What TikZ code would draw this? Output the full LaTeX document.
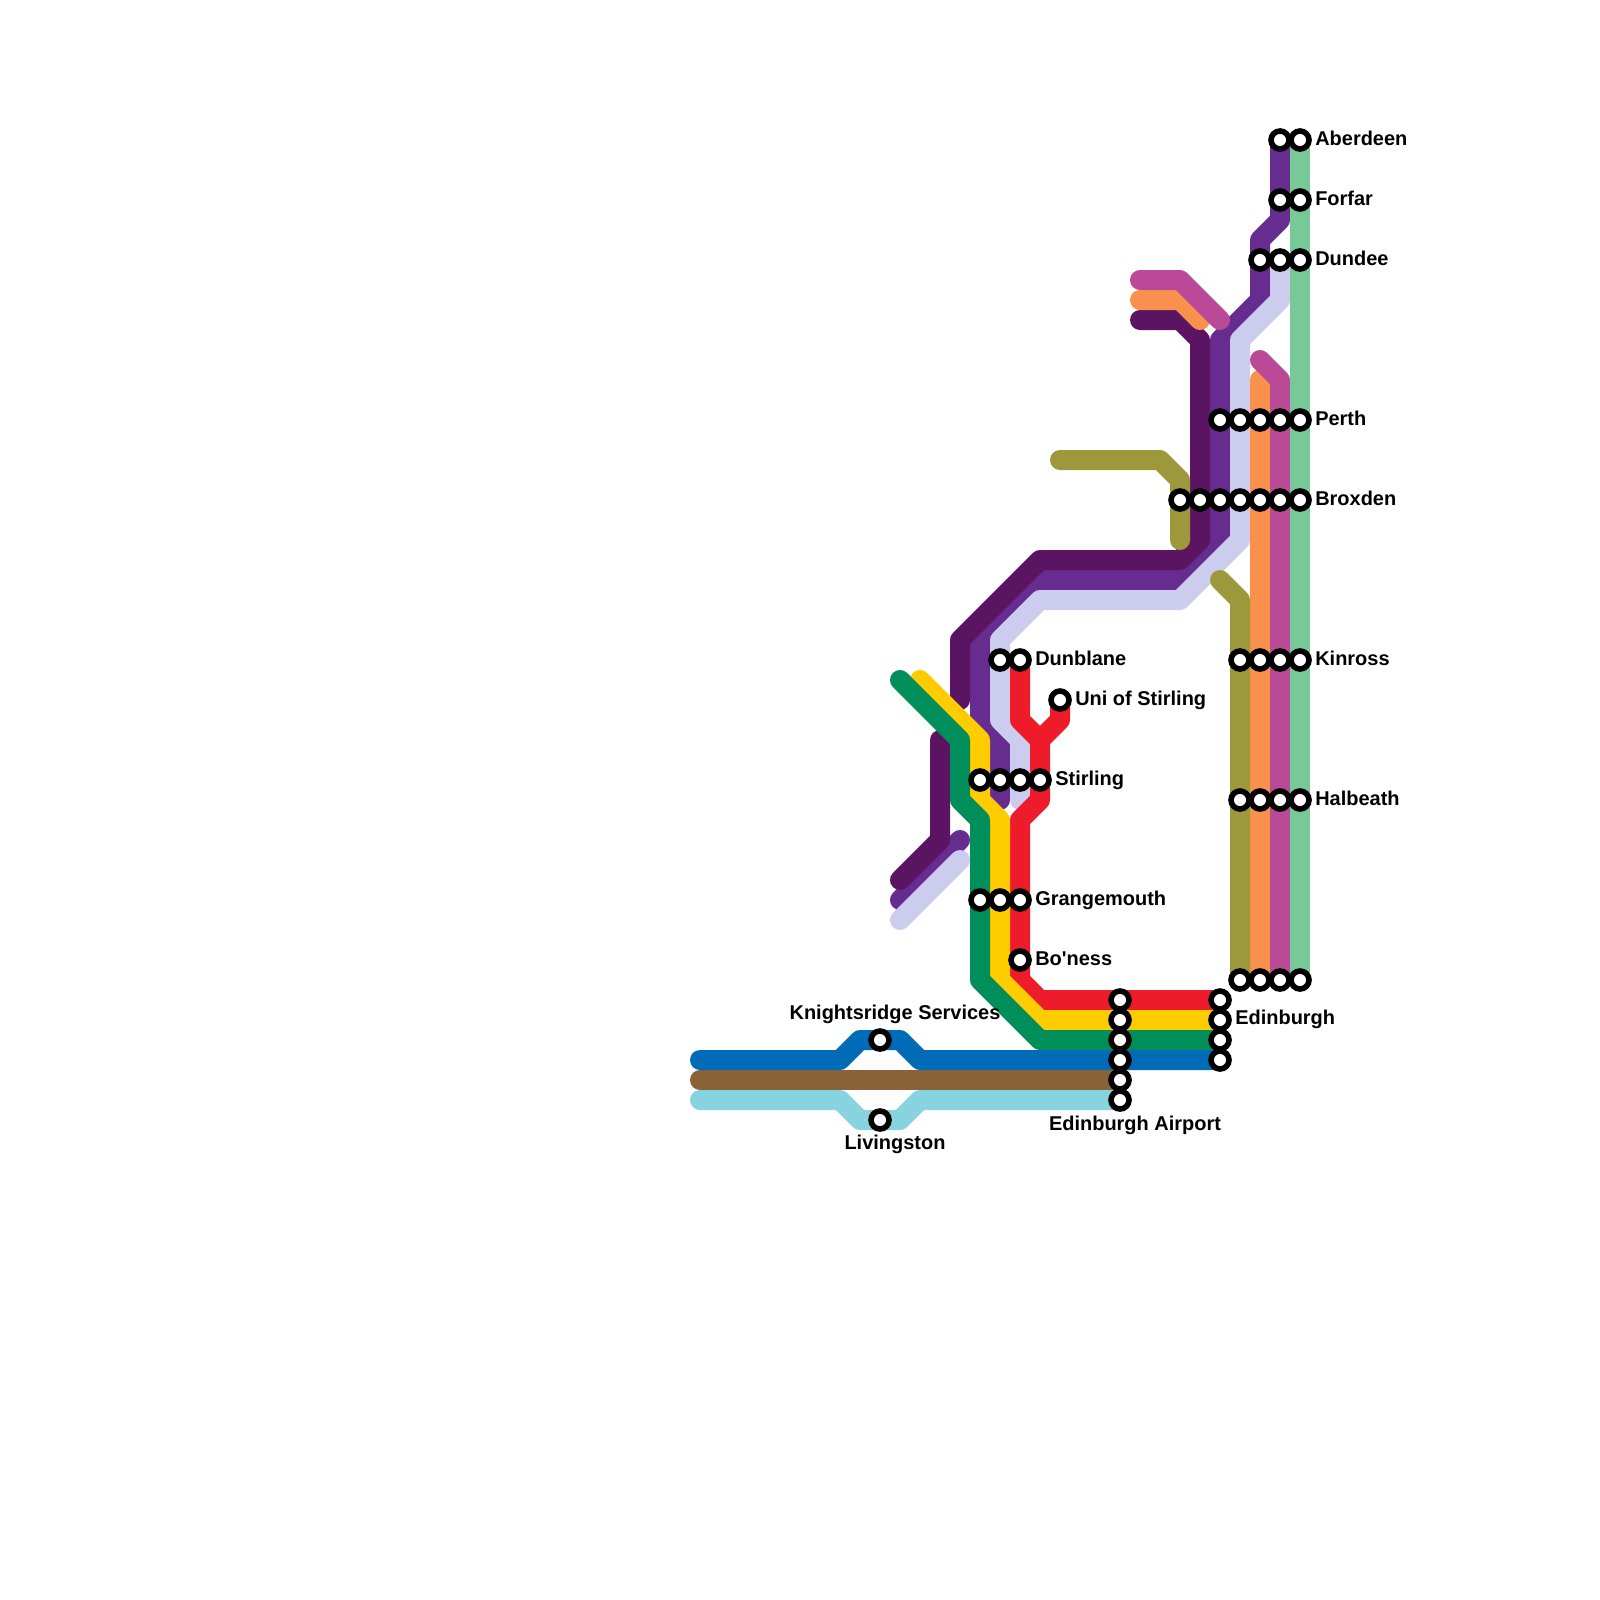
\documentclass[tikz,border=0pt]{standalone}
\usepackage{fontspec}
\setmainfont{Liberation Sans}
\definecolor{mBrown}{HTML}{8A6238}
\definecolor{mSky}{HTML}{88D3E0}
\definecolor{mBlue}{HTML}{006BB7}
\definecolor{mPurple}{HTML}{662C90}
\definecolor{mLilac}{HTML}{CCCCEE}
\definecolor{mPlum}{HTML}{5B1462}
\definecolor{mOrange}{HTML}{F9904B}
\definecolor{mPink}{HTML}{BA4A97}
\definecolor{mOlive}{HTML}{9D983C}
\definecolor{mMint}{HTML}{79C897}
\definecolor{mRed}{HTML}{EE1C2B}
\definecolor{mYellow}{HTML}{FFCC00}
\definecolor{mGreen}{HTML}{008F5A}
\newcommand{\plainquote}{\XeTeXglyph\XeTeXcharglyph"27 }
\tikzset{
  railline/.style={line width=5mm, line cap=round, line join=round},
  stn/.style={circle, draw=black, fill=white, line width=1.4mm, minimum size=4.5mm, inner sep=0pt, outer sep=0pt},
  stnlabel/.style={inner sep=0pt, anchor=base west, font=\fontsize{14.2}{16}\selectfont\bfseries},
  stnlabelmid/.style={stnlabel, anchor=base}
}
\begin{document}
\begin{tikzpicture}[x=5mm, y=-5mm]
\useasboundingbox (0,0) rectangle (80,80);
% west lines
\draw[railline, mBrown] (35,54) -- (56,54);
\draw[railline, mSky] (35,55) -- (42,55) -- (43,56) -- (45,56) -- (46,55) -- (56,55);
\draw[railline, mBlue] (35,53) -- (42,53) -- (43,52) -- (45,52) -- (46,53) -- (61,53);
% north lines
\draw[railline, mPurple] (64,7) -- (64,11) -- (63,12) -- (63,15) -- (61,17) -- (61,27) -- (59,29) -- (52,29) -- (49,32) -- (49,36) -- (50,37) -- (50,40);
\draw[railline, mPurple] (48,42) -- (45,45);
\draw[railline, mLilac] (64,13) -- (64,15) -- (62,17) -- (62,27) -- (59,30) -- (52,30) -- (50,32) -- (50,36) -- (51,37) -- (51,40);
\draw[railline, mLilac] (48,43) -- (45,46);
\draw[railline, mPlum] (57,16) -- (59,16) -- (60,17) -- (60,27) -- (59,28) -- (52,28) -- (48,32) -- (48,35);
\draw[railline, mPlum] (47,37) -- (47,42) -- (45,44);
\draw[railline, mOrange] (57,15) -- (59,15) -- (60,16);
\draw[railline, mOrange] (63,19) -- (63,49);
\draw[railline, mPink] (57,14) -- (59,14) -- (61,16);
\draw[railline, mPink] (63,18) -- (64,19) -- (64,49);
\draw[railline, mOlive] (53,23) -- (58,23) -- (59,24) -- (59,27);
\draw[railline, mOlive] (61,29) -- (62,30) -- (62,49);
\draw[railline, mMint] (65,7) -- (65,49);
% south lines
\draw[railline, mRed] (51,33) -- (51,36) -- (52,37) -- (52,40) -- (51,41) -- (51,49) -- (52,50) -- (61,50);
\draw[railline, mRed] (53,35) -- (53,36) -- (52,37);
\draw[railline, mYellow] (46,34) -- (49,37) -- (49,40) -- (50,41) -- (50,49) -- (52,51) -- (61,51);
\draw[railline, mGreen] (45,34) -- (48,37) -- (48,40) -- (49,41) -- (49,49) -- (52,52) -- (61,52);
% stations
\foreach \sx/\sy in {64/7,65/7,64/10,65/10,63/13,64/13,65/13,
    61/21,62/21,63/21,64/21,65/21,
    59/25,60/25,61/25,62/25,63/25,64/25,65/25,
    62/33,63/33,64/33,65/33,62/40,63/40,64/40,65/40,62/49,63/49,64/49,65/49,
    50/33,51/33,53/35,49/39,50/39,51/39,52/39,49/45,50/45,51/45,51/48,
    56/50,56/51,56/52,56/53,56/54,56/55,61/50,61/51,61/52,61/53,44/52,44/56}
  \node[stn] (s\sx-\sy) at (\sx,\sy) {};
% labels
\node[stnlabel] (aberdeen) at (65.75,7.25) {Aberdeen};
\node[stnlabel] (forfar) at (65.75,10.25) {Forfar};
\node[stnlabel] (dundee) at (65.75,13.25) {Dundee};
\node[stnlabel] (perth) at (65.75,21.25) {Perth};
\node[stnlabel] (broxden) at (65.75,25.25) {Broxden};
\node[stnlabel] (kinross) at (65.75,33.25) {Kinross};
\node[stnlabel] (halbeath) at (65.75,40.25) {Halbeath};
\node[stnlabel] (dunblane) at (51.75,33.25) {Dunblane};
\node[stnlabel] (unistirling) at (53.75,35.25) {Uni of Stirling};
\node[stnlabel] (stirling) at (52.75,39.25) {Stirling};
\node[stnlabel] (grangemouth) at (51.75,45.25) {Grangemouth};
\node[stnlabel] (boness) at (51.75,48.25) {Bo\plainquote ness};
\node[stnlabel] (edinburgh) at (61.75,51.2) {Edinburgh};
\node[stnlabelmid] (airport) at (56.75,56.5) {Edinburgh Airport};
\node[stnlabelmid] (knightsridge) at (44.75,50.95) {Knightsridge Services};
\node[stnlabelmid] (livingston) at (44.75,57.45) {Livingston};
\end{tikzpicture}
\end{document}
